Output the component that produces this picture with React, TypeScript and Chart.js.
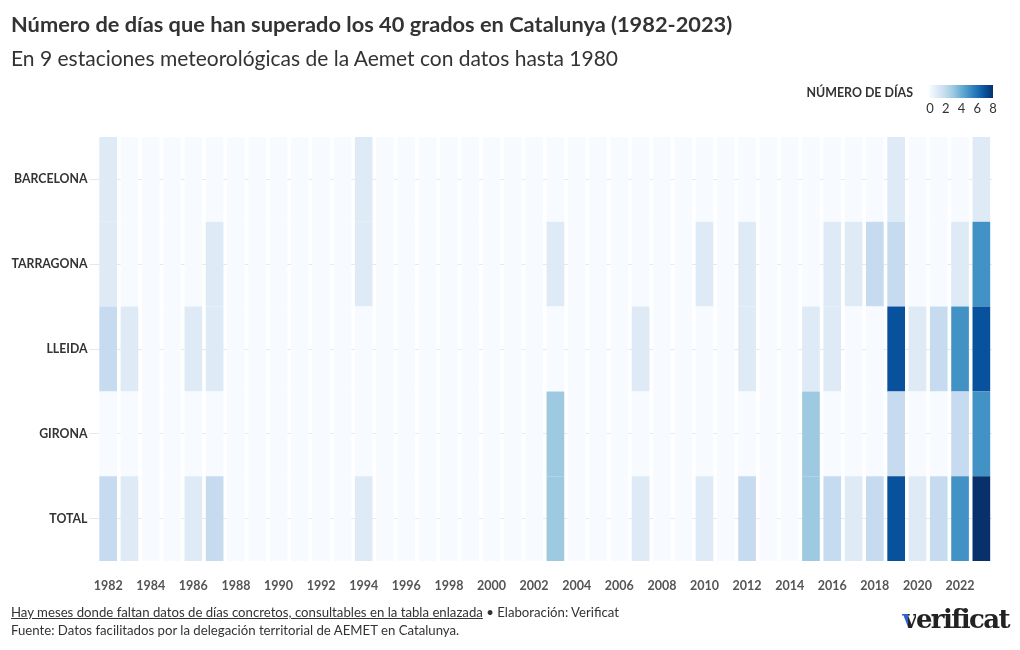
import React, { useEffect, useRef } from "react";
import { Chart, registerables } from "chart.js";

Chart.register(...registerables);

const years = [
  "1982", "1983", "1984", "1985", "1986", "1987", "1988", "1989", "1990", "1991",
  "1992", "1993", "1994", "1995", "1996", "1997", "1998", "1999", "2000", "2001",
  "2002", "2003", "2004", "2005", "2006", "2007", "2008", "2009", "2010", "2011",
  "2012", "2013", "2014", "2015", "2016", "2017", "2018", "2019", "2020", "2021",
  "2022", "2023",
];

const stations = ["TOTAL", "GIRONA", "LLEIDA", "TARRAGONA", "BARCELONA"];

const barcelona = [1,0,0,0,0,0,0,0,0,0, 0,0,1,0,0,0,0,0,0,0, 0,0,0,0,0,0,0,0,0,0, 0,0,0,0,0,0,0,1,0,0, 0,1];
const tarragona = [1,0,0,0,0,1,0,0,0,0, 0,0,1,0,0,0,0,0,0,0, 0,1,0,0,0,0,0,0,1,0, 1,0,0,0,1,1,2,2,0,0, 1,5];
const lleida    = [2,1,0,0,1,1,0,0,0,0, 0,0,0,0,0,0,0,0,0,0, 0,0,0,0,0,1,0,0,0,0, 1,0,0,1,1,0,0,7,1,2, 5,7];
const girona    = [0,0,0,0,0,0,0,0,0,0, 0,0,0,0,0,0,0,0,0,0, 0,3,0,0,0,0,0,0,0,0, 0,0,0,3,0,0,0,2,0,0, 2,5];
const total     = [2,1,0,0,1,2,0,0,0,0, 0,0,1,0,0,0,0,0,0,0, 0,3,0,0,0,1,0,0,1,0, 2,0,0,3,2,1,2,7,1,2, 5,8];

const legendTicks = ["0", "2", "4", "6", "8"];

const palette = ["#f7fbff", "#deebf7", "#c6dbef", "#9ecae1", "#6baed6", "#4292c6", "#2171b5", "#08519c", "#08306b"];

const FONT = "'Source Sans Pro', Lato, 'Noto Sans', sans-serif";

export default function App() {
  const ref = useRef<HTMLCanvasElement | null>(null);

  useEffect(() => {
    document.body.style.margin = "0";
    const rows = [total, girona, lleida, tarragona, barcelona];
    const chart = new Chart(ref.current as HTMLCanvasElement, {
      type: "bar",
      data: {
        labels: years,
        datasets: rows.map((vals, r) => ({
          label: stations[r],
          data: vals.map(() => 1),
          backgroundColor: vals.map((v) => palette[v]),
          borderWidth: 0,
          barPercentage: 0.83,
          categoryPercentage: 1,
        })),
      },
      options: {
        responsive: false,
        animation: false,
        layout: { padding: { left: 0, top: 137, right: 28, bottom: 59 } },
        plugins: { legend: { display: false }, tooltip: { enabled: false } },
        scales: {
          x: {
            stacked: true,
            grid: { display: false },
            border: { display: false },
            afterFit: (axis: any) => { axis.height = 30; },
            ticks: {
              autoSkip: false,
              maxRotation: 0,
              padding: 9,
              color: "#555",
              font: { family: FONT, size: 12.5, weight: "bold" },
              callback: (_v: any, i: number) => (i % 2 === 0 ? years[i] : ""),
            },
          },
          y: {
            stacked: true,
            min: 0,
            max: 5,
            border: { display: false },
            grid: { color: "#e8e8e8", lineWidth: 1, drawTicks: true, tickLength: 8, tickColor: "#e8e8e8" },
            afterFit: (axis: any) => { axis.width = 97.5; },
            afterBuildTicks: (axis: any) => {
              axis.ticks = [0.5, 1.5, 2.5, 3.5, 4.5].map((v) => ({ value: v }));
            },
            ticks: {
              padding: 2,
              color: "#333",
              font: { family: FONT, size: 12.3, weight: "bold" },
              callback: (v: any) => stations[Math.floor(Number(v))],
            },
          },
        },
      },
    });
    return () => chart.destroy();
  }, []);

  const legendGradient = `linear-gradient(to right, ${palette.join(", ")})`;

  return (
    <div style={{ position: "relative", width: 1020, height: 650, fontFamily: FONT, color: "#333", background: "#fff" }}>
      <canvas ref={ref} width={1020} height={650} style={{ position: "absolute", left: 0, top: 0 }} />
      <div style={{ position: "absolute", left: 11, top: 10, fontSize: 21.8, fontWeight: 700, color: "#333", whiteSpace: "nowrap" }}>
        Número de días que han superado los 40 grados en Catalunya (1982-2023)
      </div>
      <div style={{ position: "absolute", left: 11, top: 45, fontSize: 21, fontWeight: 400, color: "#333", whiteSpace: "nowrap" }}>
        En 9 estaciones meteorológicas de la Aemet con datos hasta 1980
      </div>
      <div style={{ position: "absolute", right: 107, top: 85, fontSize: 12.4, fontWeight: 700, color: "#333", whiteSpace: "nowrap" }}>
        NÚMERO DE DÍAS
      </div>
      <div style={{ position: "absolute", left: 929, top: 85, width: 64, height: 13, background: legendGradient }} />
      {legendTicks.map((t, i) => (
        <div key={t} style={{ position: "absolute", left: 930 + i * 15.75 - 10, width: 20, top: 100, textAlign: "center", fontSize: 13, color: "#333" }}>
          {t}
        </div>
      ))}
      <div style={{ position: "absolute", left: 11, top: 604, fontSize: 13.2, color: "#333", whiteSpace: "nowrap" }}>
        <span style={{ textDecoration: "underline" }}>Hay meses donde faltan datos de días concretos, consultables en la tabla enlazada</span>
        {" • Elaboración: Verificat"}
      </div>
      <div style={{ position: "absolute", left: 11, top: 622, fontSize: 13.2, color: "#333", whiteSpace: "nowrap" }}>
        Fuente: Datos facilitados por la delegación territorial de AEMET en Catalunya.
      </div>
      <div style={{ position: "absolute", right: 11, top: 604, fontSize: 26, fontWeight: 700, fontFamily: "'DejaVu Serif', 'Liberation Serif', serif", color: "#222", letterSpacing: -1.6, whiteSpace: "nowrap" }}>
        <span style={{ background: "linear-gradient(to right, #2f5fd0 45%, #222 45%)", WebkitBackgroundClip: "text", backgroundClip: "text", color: "transparent" }}>v</span>
        erificat
      </div>
    </div>
  );
}
